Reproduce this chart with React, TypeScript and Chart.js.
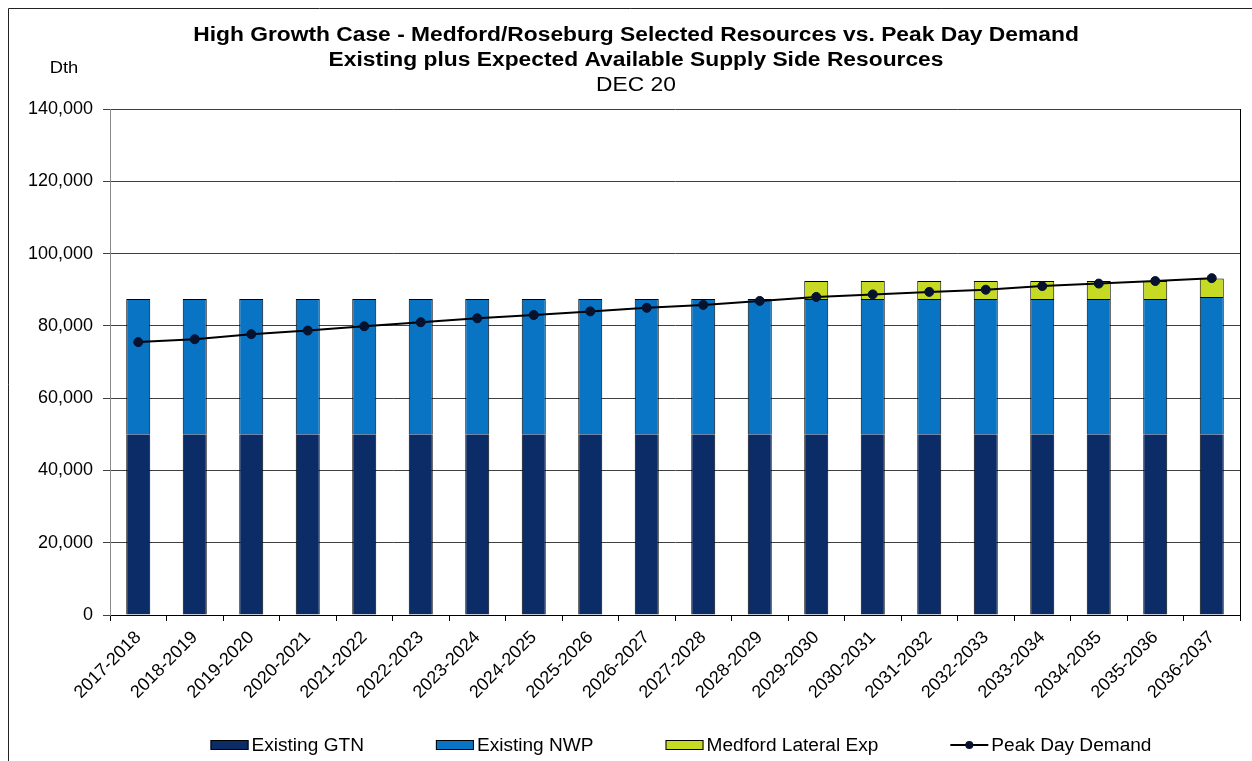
import React, { useEffect, useRef } from "react";
import { Chart, registerables } from "chart.js";

Chart.register(...registerables);

const categories = [
  "2017-2018", "2018-2019", "2019-2020", "2020-2021", "2021-2022",
  "2022-2023", "2023-2024", "2024-2025", "2025-2026", "2026-2027",
  "2027-2028", "2028-2029", "2029-2030", "2030-2031", "2031-2032",
  "2032-2033", "2033-2034", "2034-2035", "2035-2036", "2036-2037",
];

const existingGTN = [
  50000, 50000, 50000, 50000, 50000, 50000, 50000, 50000, 50000, 50000,
  50000, 50000, 50000, 50000, 50000, 50000, 50000, 50000, 50000, 50000,
];

const existingNWP = [
  37400, 37400, 37400, 37400, 37400, 37400, 37400, 37400, 37400, 37400,
  37400, 37400, 37400, 37400, 37400, 37400, 37400, 37400, 37400, 38000,
];

const medfordLateralExp = [
  null, null, null, null, null, null, null, null, null, null,
  null, null, 5000, 5000, 5000, 5000, 5000, 5000, 5000, 5100,
];

const peakDayDemand = [
  75500, 76300, 77700, 78700, 79900, 81000, 82100, 83000, 84000, 85000,
  85800, 86900, 88000, 88700, 89400, 90000, 91000, 91700, 92400, 93200,
];

const seriesNames = ["Existing GTN", "Existing NWP", "Medford Lateral Exp", "Peak Day Demand"];
const titleLines = [
  "High Growth Case - Medford/Roseburg Selected Resources vs. Peak Day Demand",
  "Existing plus Expected Available Supply Side Resources",
];
const subtitleText = "DEC 20";
const yAxisUnit = "Dth";
const yMin = 0;
const yMax = 140000;
const yStep = 20000;

const FONT = "'Liberation Sans', Arial, sans-serif";

function stretchedText(ctx: any, text: string, x: number, y: number, sx: number, align: string) {
  ctx.save();
  ctx.translate(x, y);
  ctx.scale(sx, 1);
  ctx.textAlign = align;
  ctx.fillText(text, 0, 0);
  ctx.restore();
}

const decorPlugin = {
  id: "decor",
  afterDraw(chart: any) {
    const { ctx, chartArea } = chart;
    ctx.save();
    // outer frame
    ctx.strokeStyle = "#222";
    ctx.lineWidth = 1;
    ctx.beginPath();
    ctx.moveTo(8.5, 761);
    ctx.lineTo(8.5, 8.5);
    ctx.lineTo(1252, 8.5);
    ctx.stroke();
    // right border of plot area
    ctx.strokeStyle = "#000";
    ctx.beginPath();
    ctx.moveTo(Math.round(chartArea.right) + 0.5, chartArea.top);
    ctx.lineTo(Math.round(chartArea.right) + 0.5, chartArea.bottom);
    ctx.stroke();

    // titles
    ctx.fillStyle = "#000";
    ctx.textBaseline = "middle";
    const cx = 636;
    ctx.font = `bold 20px ${FONT}`;
    stretchedText(ctx, titleLines[0], cx, 35, 1.14, "center");
    stretchedText(ctx, titleLines[1], cx, 60, 1.14, "center");
    ctx.font = `20px ${FONT}`;
    stretchedText(ctx, subtitleText, cx, 85, 1.14, "center");

    // unit label
    ctx.font = `17px ${FONT}`;
    stretchedText(ctx, yAxisUnit, 64, 68, 1.08, "center");

    // legend
    const ds = chart.data.datasets;
    ctx.font = `18px ${FONT}`;
    const sx = 1.06;
    const boxW = 38;
    const gapText = 3;
    const gapItem = 72;
    const widths = ds.map((d: any) => boxW + gapText + ctx.measureText(d.label).width * sx);
    const total = widths.reduce((a: number, b: number) => a + b, 0) + gapItem * (ds.length - 1);
    let x = 681 - total / 2;
    const ly = 745;
    ds.forEach((d: any, i: number) => {
      if (d.type === "line") {
        ctx.strokeStyle = d.borderColor;
        ctx.lineWidth = 2;
        ctx.beginPath();
        ctx.moveTo(x, ly);
        ctx.lineTo(x + boxW, ly);
        ctx.stroke();
        ctx.fillStyle = d.pointBackgroundColor;
        ctx.beginPath();
        ctx.arc(x + boxW / 2, ly, 4, 0, Math.PI * 2);
        ctx.fill();
      } else {
        ctx.fillStyle = d.backgroundColor;
        ctx.fillRect(x, ly - 5, boxW, 10);
        ctx.strokeStyle = "#000";
        ctx.lineWidth = 1;
        ctx.strokeRect(x + 0.5, ly - 4.5, boxW - 1, 9);
      }
      ctx.fillStyle = "#000";
      stretchedText(ctx, d.label, x + boxW + gapText, ly + 1, sx, "left");
      x += widths[i] + gapItem;
    });
    ctx.restore();
  },
};

export default function App() {
  const canvasRef = useRef<HTMLCanvasElement | null>(null);

  useEffect(() => {
    if (!canvasRef.current) return;
    const chart = new Chart(canvasRef.current, {
      type: "bar",
      data: {
        labels: categories,
        datasets: [
          {
            type: "bar",
            label: seriesNames[0],
            data: existingGTN,
            backgroundColor: "#0b2c66",
            borderColor: "#000",
            borderWidth: { left: 1, right: 1, top: 0, bottom: 0 },
            borderSkipped: false,
            stack: "supply",
            order: 1,
            categoryPercentage: 1,
            barPercentage: 0.425,
          },
          {
            type: "bar",
            label: seriesNames[1],
            data: existingNWP,
            backgroundColor: "#0a74c4",
            borderColor: "#000",
            borderWidth: 1,
            stack: "supply",
            order: 1,
            categoryPercentage: 1,
            barPercentage: 0.425,
          },
          {
            type: "bar",
            label: seriesNames[2],
            data: medfordLateralExp,
            backgroundColor: "#c6da24",
            borderColor: "#000",
            borderWidth: 1,
            stack: "supply",
            order: 1,
            categoryPercentage: 1,
            barPercentage: 0.425,
          },
          {
            type: "line",
            label: seriesNames[3],
            data: peakDayDemand,
            borderColor: "#000",
            borderWidth: 2,
            backgroundColor: "#000",
            pointBackgroundColor: "#06122e",
            pointBorderColor: "#06122e",
            pointRadius: 4.5,
            pointBorderWidth: 1,
            stack: "demand",
            order: 0,
            tension: 0,
          } as any,
        ],
      },
      options: {
        animation: false,
        responsive: false,
        layout: { padding: { top: 109, right: 12, bottom: 0, left: 0 } },
        plugins: {
          legend: { display: false },
          title: { display: false },
          tooltip: { enabled: false },
        },
        scales: {
          x: {
            stacked: true,
            grid: {
              offset: true,
              drawOnChartArea: false,
              drawTicks: true,
              tickLength: 6,
              color: "#000",
            },
            border: { display: true, color: "#000", width: 1 },
            ticks: {
              autoSkip: false,
              maxRotation: 45,
              minRotation: 45,
              padding: 6,
              color: "#000",
              font: { family: FONT, size: 18 },
            },
            afterFit(scale: any) {
              scale.height = 146;
            },
          },
          y: {
            stacked: true,
            min: yMin,
            max: yMax,
            ticks: {
              stepSize: yStep,
              padding: 10,
              color: "#000",
              font: { family: FONT, size: 18 },
              callback: (v: any) => Number(v).toLocaleString("en-US"),
            },
            grid: {
              color: "#404040",
              lineWidth: 1,
              drawTicks: true,
              tickLength: 7,
            },
            border: { display: true, color: "#8a8a8a", width: 1 },
            afterFit(scale: any) {
              scale.width = 110;
            },
          },
        },
      },
      plugins: [decorPlugin],
    });
    return () => chart.destroy();
  }, []);

  return (
    <div style={{ position: "absolute", left: 0, top: 0, width: 1252, height: 761, background: "#fff" }}>
      <canvas ref={canvasRef} width={1252} height={761} style={{ display: "block" }} />
    </div>
  );
}
